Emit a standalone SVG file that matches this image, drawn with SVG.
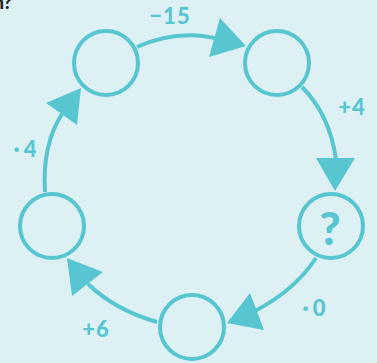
<svg xmlns="http://www.w3.org/2000/svg" width="377" height="363" viewBox="0 0 377 363">
<style>
.node{fill:none;stroke:#57c6d0;stroke-width:4}
.edge{fill:none;stroke:#57c6d0;stroke-width:4}
.head{fill:#57c6d0}
.lbl{font-family:Lato,"DejaVu Sans",sans-serif;font-weight:900;fill:#57c6d0;font-size:22px;text-anchor:middle;letter-spacing:1px}
.dot{letter-spacing:4px}
</style>
<rect width="377" height="363" fill="#ddf1f4"/>
<text x="12" y="9" font-family="Lato,'DejaVu Sans',sans-serif" font-weight="900" font-size="18" text-anchor="end" fill="#222">n?</text>
<g id="connectors">
<path class="edge" d="M137,47 Q180,28 222,40"/>
<polygon class="head" points="220,18 209,57 246,46"/>
<path class="edge" d="M302,87 Q330,115 336,160"/>
<polygon class="head" points="316,158 355,158 335,191"/>
<path class="edge" d="M316,258 Q295,290 255,311"/>
<polygon class="head" points="250,293 264,330 227,323"/>
<path class="edge" d="M157,322 Q115,310 88,284"/>
<polygon class="head" points="67,258 103,272 72,296"/>
<path class="edge" d="M45,192 Q42,145 62,114"/>
<polygon class="head" points="46,103 81,88 77,125"/>
<text class="lbl" x="170" y="24">−15</text>
<text class="lbl" x="352" y="115">+4</text>
<text class="lbl dot" x="27" y="157">·4</text>
<text class="lbl dot" x="316" y="316">·0</text>
<text class="lbl" x="96" y="337">+6</text>
</g>
<g id="n1"><circle class="node" cx="106" cy="63" r="32"/></g>
<g id="n2"><circle class="node" cx="277" cy="63" r="32"/></g>
<g id="n3"><circle class="node" cx="331" cy="226" r="32"/><text class="lbl" x="330" y="245" style="font-size:46px;letter-spacing:0">?</text></g>
<g id="n4"><circle class="node" cx="192" cy="327" r="32"/></g>
<g id="n5"><circle class="node" cx="52" cy="226" r="32"/></g>
</svg>
